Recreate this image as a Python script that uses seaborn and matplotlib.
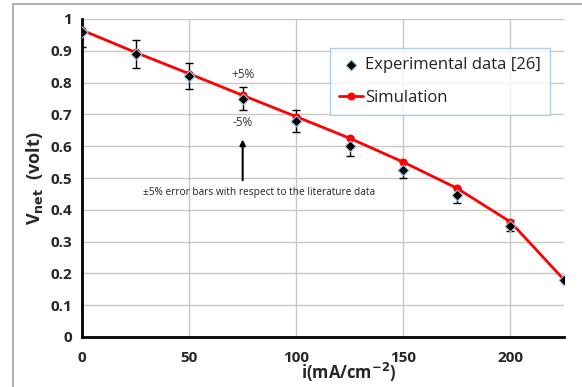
import matplotlib
matplotlib.use("Agg")
import matplotlib.pyplot as plt
import seaborn as sns
import numpy as np
import pandas as pd

current = [0, 25, 50, 75, 100, 125, 150, 175, 200, 225]
v_exp = [0.96, 0.89, 0.82, 0.75, 0.68, 0.60, 0.525, 0.445, 0.35, 0.18]
v_sim = [0.965, 0.895, 0.828, 0.76, 0.693, 0.625, 0.55, 0.468, 0.362, 0.18]
x_ticks = [0, 50, 100, 150, 200]
y_ticks = [0, 0.1, 0.2, 0.3, 0.4, 0.5, 0.6, 0.7, 0.8, 0.9, 1]
y_tick_labels = ["0", "0.1", "0.2", "0.3", "0.4", "0.5", "0.6", "0.7", "0.8", "0.9", "1"]

sns.set_style("white")
plt.rcParams['font.family'] = ['Open Sans', 'DejaVu Sans']

df = pd.DataFrame({"i": current, "exp": v_exp, "sim": v_sim})

fig = plt.figure(figsize=(5.82, 3.87), dpi=100)
# outer chart border
fig.patches.append(plt.Rectangle((13/582, -0.1), 1.2, 1 - 4/387 + 0.1, transform=fig.transFigure,
                                 fill=False, edgecolor="#a0a0a0", linewidth=1.2))
ax = fig.add_axes([82/582, 1 - 337/387, (564 - 82)/582, (337 - 19)/387])

err = [v * 0.05 for v in v_exp]
ax.errorbar(current[:-1], v_exp[:-1], yerr=err[:-1], fmt="none", ecolor="black",
            elinewidth=1, capsize=3, capthick=1, zorder=3)

sns.lineplot(data=df, x="i", y="sim", ax=ax, color="#ff0000", linewidth=2,
             marker="o", markersize=5, markeredgecolor="#ff0000", label="Simulation", zorder=4)
sns.scatterplot(data=df, x="i", y="exp", ax=ax, marker="D", s=30, color="black",
                edgecolor="#9cc3e6", linewidth=0.8, label="Experimental data [26]", zorder=5)

ax.set_xlim(0, 225)
ax.set_ylim(0, 1)
ax.set_xticks(x_ticks)
ax.set_yticks(y_ticks)
ax.set_yticklabels(y_tick_labels)
ax.grid(True, color="#c8c8c8", linewidth=1)
ax.set_axisbelow(True)
for s in ["top", "right"]:
    ax.spines[s].set_visible(False)
for s in ["left", "bottom"]:
    ax.spines[s].set_linewidth(2)
    ax.spines[s].set_color("black")
ax.tick_params(axis="both", which="major", direction="inout", length=6, width=1.5,
               labelsize=11, pad=4)
for lbl in ax.get_xticklabels() + ax.get_yticklabels():
    lbl.set_fontweight("bold")
ax.tick_params(axis="x", pad=7)

ax.set_xlabel(r"i(mA/cm$^{\mathbf{-2}}$)", fontsize=12, fontweight="bold")
ax.xaxis.set_label_coords((349 - 82) / 482, -0.075)
ax.set_ylabel(r"V$_{\mathbf{net}}$  (volt)", fontsize=13, fontweight="bold", labelpad=4)

ax.text(75, 0.827, "+5%", ha="center", va="center", fontsize=8.5, color="#333333")
ax.text(75, 0.676, "-5%", ha="center", va="center", fontsize=8.5, color="#333333")
ax.annotate("", xy=(75, 0.63), xytext=(75, 0.484),
            arrowprops=dict(arrowstyle="-|>", color="black", lw=1.5, mutation_scale=8))
ax.text(82.6, 0.453, "±5% error bars with respect to the literature data",
        ha="center", va="center", fontsize=7.3, color="#222222")

handles, labels = ax.get_legend_handles_labels()
order = [labels.index("Experimental data [26]"), labels.index("Simulation")]
leg = ax.legend([handles[i] for i in order], [labels[i] for i in order],
                loc="upper left", bbox_to_anchor=((330 - 82) / 482, (337 - 48) / 318),
                fontsize=12, frameon=True, fancybox=False, handlelength=1.4,
                borderpad=0.55, labelspacing=1.0, handletextpad=0.15, borderaxespad=0)
leg.get_frame().set_edgecolor("#9cc3e6")
leg.get_frame().set_linewidth(1)
for t in leg.get_texts():
    t.set_color("#222222")

fig.savefig("out.png", dpi=100)
